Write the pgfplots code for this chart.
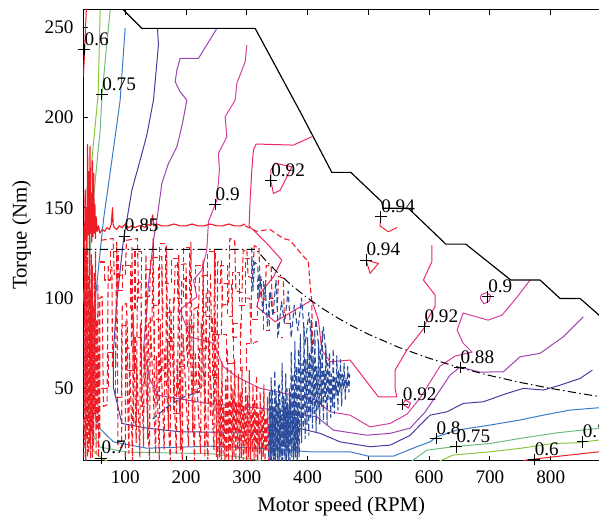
\documentclass[border=0pt]{standalone}
\usepackage{fontspec}
\setmainfont{Liberation Serif}
\usepackage{pgfplots}
\pgfplotsset{compat=1.18}
\definecolor{c60}{HTML}{E8202A}
\definecolor{c70}{HTML}{8CC63F}
\definecolor{c75}{HTML}{6DBE7C}
\definecolor{c80}{HTML}{3A7CC8}
\definecolor{c85}{HTML}{4B3D9F}
\definecolor{c88}{HTML}{9C45B2}
\definecolor{c90}{HTML}{D1419C}
\definecolor{c92}{HTML}{EC2A6B}
\definecolor{c94}{HTML}{F0283C}
\definecolor{opred}{HTML}{EE1C25}
\definecolor{opblue}{HTML}{2B4C9B}
\begin{document}
\begin{tikzpicture}
\begin{axis}[name=ax, scale only axis, width=309.4pt, height=270.4pt,
  xmin=31, xmax=879.4, ymin=10, ymax=259.5,
  axis y line*=left,
  xtick={100,200,...,800}, ytick={50,100,...,250},
  tick align=inside, major tick length=3pt,
  tick style={black, line width=0.6pt}, axis line style={line width=0.6pt},
  /pgf/number format/assume math mode=true,
  ticklabel style={font=\fontsize{11.5}{13}\selectfont},
  xticklabel style={yshift=-2.8pt}, yticklabel style={xshift=-2.4pt},
  xlabel={Motor speed (RPM)}, ylabel={Torque (Nm)},
  label style={font=\fontsize{12.5}{14}\selectfont},
  xlabel style={at={(axis description cs:0.5,-0.1006)}, anchor=center},
  ylabel style={at={(axis description cs:-0.1196,0.5)}, anchor=center},
  every axis plot/.append style={line join=round},
  opdash/.style={line width=0.65pt, dash pattern=on 3.4pt off 1.8pt},
]
% ---------- efficiency contours ----------
\addplot[c60, line width=0.6pt] coordinates {(36,260) (34,245) (32.5,232) (31,222)};
\addplot[c60, line width=0.6pt] coordinates {(750,9) (758.9,10.3) (804.3,12.1) (879.4,14.9) (890,15.5)};
\addplot[c70, line width=0.6pt] coordinates {(58.7,259.5) (55.4,213) (45.1,176.4) (41.1,154.3) (35.7,126.6) (32.4,104.4) (30.5,97)};
\addplot[c70, line width=0.6pt] coordinates {(30.5,33) (35,25) (42.3,18.6) (50,14.5) (60.4,11.4) (72,9.5)};
\addplot[c70, line width=0.6pt] coordinates {(612,9) (620.7,10.3) (639.3,13.1) (700.2,14.9) (749.5,16.8) (803.8,19.5) (842.8,19.9) (879.4,21.4) (890,21.8)};
\addplot[c75, line width=0.6pt] coordinates {(75.2,259.5) (68.6,237.3) (62,213) (58.7,193) (53.8,176.4) (47.7,154.3) (42,125) (39,93.3) (35.7,54.6) (42.3,26.9) (58.7,17.5) (103.1,14.7) (239.6,13.9) (289,11.9) (330,9.5)};
\addplot[c75, line width=0.6pt] coordinates {(568,9) (573.6,10.3) (596,15.8) (639.8,17.7) (700.2,19.5) (749.5,22.3) (809.9,25.4) (879.4,27.9) (890,28.3)};
\addplot[c80, line width=0.6pt] coordinates {(99.8,249.5) (91.6,209.6) (78,176.4) (64.1,143.2) (50.5,98.9) (48.8,54.6) (52.1,29.7) (80.6,20.4) (135.5,16.9) (239.6,18) (321.9,16.9) (404.1,14.9) (469.9,14.9) (499.5,12.5) (541.2,12.5) (579.6,17.7) (601.5,20.4) (612.5,23.2) (645.4,26.9) (700.2,29.7) (749.5,32.5) (787.8,35.2) (831.7,38) (879.4,39.3) (890,39.5)};
\addplot[c85, line width=0.6pt] coordinates {(153,249.5) (154.6,240.1) (146.4,209.6) (135.5,190.3) (124.5,176.4) (110.9,159.8) (97,132.1) (86.2,98.9) (80.6,71.2) (80.6,50.2) (94.4,30.6) (135.5,28) (190.3,26) (239.6,25.8) (321.9,25.8) (376.6,28.7) (420.6,25.1) (453.5,20.4) (502.8,17.7) (535.7,18.6) (568.6,24) (585,29.7) (601.5,35.2) (628.9,37) (656.3,41.7) (689.1,42.6) (727.6,47.2) (754.9,50) (787.8,49.1) (815.3,51.8) (848.2,55.5) (868.4,60.1)};
\addplot[c88, line width=0.6pt] coordinates {(250.7,249.3) (220.4,232.7) (190.3,232.7) (184.9,226.2) (182.1,219.8) (190.3,214.2) (201.3,209.6) (195.2,198.6) (190.3,191.2) (184.9,183.8) (173.9,176.4) (171.1,174.6) (160.2,163.5) (152,143.2) (146.4,132.1) (138.2,108.1) (135.5,93.4) (129.9,71.2) (141,54.6) (154.1,46.3) (182.1,44.6) (231.4,41.9) (280.8,40.2) (321.9,39.1) (376.6,36.2) (415.1,34.3) (442.4,26.9) (497.4,24.1) (535.7,25.1) (568.6,28) (593.3,36.9) (617.9,49.1) (634.4,57.4) (650.8,61.8) (683.7,59) (722,59.2) (749.5,67.5) (782.4,69.4) (820.7,78.6) (853.6,89.6)};
\addplot[c90, line width=0.6pt] coordinates {(300,240.1) (297.2,230.8) (283.6,218.9) (280.8,209.6) (264.3,200.4) (267.1,189.3) (253.3,180.1) (254.9,170.9) (250.7,154.3) (236.8,142.2) (234.2,126.6) (226,115.5) (212.2,110) (217.8,100.7) (195.7,95.2) (190.3,93.3) (206.7,78.6) (245.1,74.9) (261.5,62) (283.6,56.4) (321.9,50) (376.6,46.3) (409.5,44.5) (437,37) (469.9,35.2) (502.8,28.7) (535.7,30.6) (563.7,35.8) (585,44.6) (601.5,53.5) (617.9,62.3) (642.6,67.9) (670.6,70.1) (655.8,75.1) (645.9,82.3) (655.8,91.7) (697,87.8) (719.9,90.6) (744.6,100.5) (766,110)};
\addplot[c90, line width=0.6pt] coordinates {(684,100) (690,96.8) (699,98.5) (701,101.5) (694,103) (686,102) (684,100)};
\addplot[c92, line width=0.6pt] coordinates {(406.9,189.3) (376.6,184.7) (315.3,185.3) (310.9,182) (308.2,170.9) (305.4,154.3) (303.8,139.9) (316.4,135.8) (332.9,130.3) (357.6,121) (343.8,111.8) (321.9,102.6) (316.4,95.2) (346.5,86.9) (406.9,98.9) (417.8,87.8) (423.4,71.2) (437,64.7) (469.9,65.7) (516.4,45.3) (546.7,45.3) (543.9,50) (543.9,60.1) (563.2,71.2) (591.6,83.4) (596,87.8) (609.7,95.2) (609.7,101.7) (590.5,110) (604.3,120.1) (604.3,129.3)};
\addplot[c92, line width=0.6pt] coordinates {(339.5,164.9) (343.8,157.9) (354.8,159.7) (374,172.7) (346.5,174.7) (339.5,170.9) (339.5,164.9)};
\addplot[c92, line width=0.6pt] coordinates {(556,41.4) (565.9,39.1) (569.2,41.9) (560.9,43.5) (556,41.4)};
\addplot[c94, line width=0.6pt] coordinates {(520.4,145) (519.2,139.9) (532.9,136.7) (547.2,139.1)};
\addplot[c94, line width=0.6pt] coordinates {(496.2,121) (502.8,113.7) (516.4,119.2) (496.2,121)};
% ---------- red operating points ----------
\addplot[opred, opdash] coordinates {
(32,12) (33,130) (34,18) (34,126) (35,10) (36,134) (36,22) (37,120) (38,12) (38,128) (39,30) (40,112) (40,14) (41,135) (42,20) (43,104) (43,11) (44,124) (45,26) (46,118) (46,12) (47,96) (48,18) (49,114) (50,36) (51,126) (52,14) (53,88) (54,28) (55,108) (56,12) (57,72) (58,22) (58,100)
(62,101) (64,40) (70,41) (72,118) (78,117) (79,62) (84,63) (86,131) (88,18) (94,17) (95,96) (102,97) (104,72) (110,73) (111,128) (114,30) (118,31) (120,108) (126,109) (127,52) (132,52) (134,124) (137,22) (138,86) (144,87) (146,133) (148,42) (154,43) (155,117) (160,116) (162,60) (167,60) (168,129) (171,27) (173,99) (179,100) (181,46) (186,47) (188,124) (191,16) (193,110) (199,111) (201,69) (206,70) (208,131) (211,26) (213,94) (219,95) (221,50) (226,51) (228,121) (231,12) (233,104) (238,104) (240,35) (245,36) (247,127) (250,12)
(252,120) (258,121) (260,96) (270,97) (272,133) (280,132) (282,104) (292,103) (294,126) (300,127) (302,112) (310,111) (312,129) (320,128) (322,100) (330,99) (332,118) (340,118) (342,92) (350,92) (352,112) (360,111) (362,86) (372,86)};
\addplot[opred, opdash] coordinates {
(60,132) (80,133) (82,112) (100,113) (102,132) (120,133) (122,100) (140,101) (142,122) (160,123) (162,92) (180,92) (182,118) (200,119) (202,84) (220,85) (222,112) (240,113) (242,80) (258,80) (260,108) (275,108) (277,78) (290,79) (292,100) (305,100) (307,75) (318,76)};
\addplot[opred, opdash] coordinates {
(58,120) (66,120) (66,110) (76,110) (76,126) (88,126) (88,104) (96,104) (96,118) (108,118) (108,94) (116,94) (116,126) (126,126) (126,106) (134,106) (134,116) (146,116) (146,96) (156,96) (156,130) (166,130) (166,108) (176,108) (176,122) (186,122) (186,100) (196,100) (196,128) (206,128) (206,104) (216,104) (216,118) (228,118) (228,92) (236,92) (236,126) (248,126) (248,108) (256,108) (256,118) (268,118) (268,90) (276,90) (276,114) (288,114) (288,96) (298,96) (298,122) (308,122) (308,88) (318,88) (318,110) (328,110) (328,82) (338,82) (338,100) (350,100) (350,78) (360,78)};
\addplot[opred, opdash] coordinates {
(60,50) (72,50) (72,70) (84,70) (84,45) (94,45) (94,85) (104,85) (104,60) (116,60) (116,78) (126,78) (126,40) (136,40) (136,66) (148,66) (148,88) (158,88) (158,54) (170,54) (170,76) (180,76) (180,36) (190,36) (190,62) (202,62) (202,84) (212,84) (212,48) (222,48) (222,72) (234,72) (234,90) (244,90) (244,56) (254,56) (254,80) (266,80) (266,64) (278,64) (278,86) (290,86) (290,60) (300,60) (300,75) (312,75)};
\addplot[opred, opdash] coordinates {
(100,12) (101,88) (106,14) (107,70) (112,10) (113,92) (118,20) (119,64) (124,12) (125,86) (130,18) (131,74) (140,10) (141,90) (150,14) (151,68) (156,10) (157,84) (164,16) (165,72) (174,10) (175,94) (184,14) (185,66) (194,10) (195,80) (204,18) (205,88) (214,10) (215,70) (224,14) (225,86) (236,10) (237,78) (246,16) (247,92)};
\addplot[opred, opdash] coordinates {
(252,10) (253,58) (255,12) (256,46) (258,10) (259,65) (261,14) (262,40) (264,10) (265,55) (267,12) (268,72) (270,10) (271,44) (273,15) (274,60) (276,10) (277,50) (279,12) (280,66) (282,10) (283,42) (285,16) (286,58) (288,10) (289,48) (291,12) (292,62) (294,10) (295,40) (297,14) (298,54) (300,10) (301,46) (303,12) (304,60) (306,10) (307,38) (309,15) (310,52) (312,10) (313,44) (315,12) (316,57) (318,10) (319,36) (321,14) (322,48) (324,10) (325,40) (327,12) (328,52) (330,10) (331,34) (333,15) (334,45) (336,10) (337,30) (339,13) (340,24)};
\addplot[opred, opdash] coordinates {
(297,140) (316,137) (338,138) (360,133) (371,132) (396,122) (401,121) (404,108) (407,97) (408,70)};
\addplot[opred, line width=0.7pt] coordinates {
(31,128) (32,140) (33,126) (34,160) (35,132) (36,150) (37,128) (38,185) (39,135) (40,170) (41,130) (42,184) (43,136) (44,158) (45,131) (46,176) (47,134) (48,169) (49,136) (50,152) (51,133) (52,145) (54,137) (56,140) (58,136) (62,138) (66,137) (70,139) (74,138) (77,141) (79,150) (80,141) (82,139) (86,138) (90,140) (95,139) (100,141) (105,139) (110,140) (116,139) (122,140) (128,140) (132,139) (136,141) (142,140) (145,146) (147,140) (152,141) (160,140) (170,140) (180,141) (190,140) (200,140) (210,141) (220,140) (230,140) (240,141) (250,140) (260,140) (270,141) (280,140) (290,140) (297,141)};
% ---------- blue operating points ----------
\addplot[opblue, opdash] coordinates {
(338,10) (339,40) (341,10) (342,50) (344,10) (345,36) (347,10) (348,48) (350,12) (351,40) (353,10) (354,52) (356,12) (357,34) (359,10) (360,46) (362,12) (363,40) (365,10) (366,50) (368,12) (369,38) (371,10) (372,44) (374,12) (375,36) (377,10) (378,48) (380,12) (381,34) (383,10) (384,42) (386,12) (387,30)};
\addplot[opblue, opdash] coordinates {
(336,12) (337,48) (339,10) (340,56) (342,14) (343,40) (345,10) (346,60) (348,16) (349,44) (351,10) (352,52) (354,12) (355,38) (357,10) (358,64) (360,18) (361,46) (363,10) (364,58) (366,14) (367,42) (369,10) (370,50) (372,20) (373,70) (375,24) (376,58) (378,16) (379,76) (381,22) (382,62) (384,14) (385,72) (387,26) (388,80) (390,20) (391,64) (393,28) (394,84) (396,22) (397,66) (399,30) (400,78) (402,24) (403,70) (405,34) (406,88) (408,28) (409,68) (411,36) (412,80) (414,26) (415,62) (417,38) (418,76) (420,30) (421,66) (423,40) (424,82) (426,32) (427,60) (429,42) (430,74) (432,30) (433,64) (435,44) (436,70) (438,34) (439,58) (441,40) (442,72) (444,36) (445,56) (447,46) (448,68) (450,38) (451,60) (453,48) (454,66) (456,40) (457,58) (459,50) (460,64) (462,44) (463,56) (465,50) (466,62) (468,48) (469,58)};
\addplot[opblue, opdash] coordinates {
(308,128) (310,104) (313,120) (318,118) (320,100) (323,112) (326,92) (330,108) (334,84) (338,104) (343,90) (348,110) (352,80) (357,98) (362,86) (368,104) (373,78) (378,96) (384,82) (390,100) (396,74) (402,92) (408,70) (414,88) (420,66) (426,84) (432,62)};
\addplot[opblue, opdash] coordinates {(145,33) (170,40) (195,45) (220,48)};
% ---------- envelope and power curve ----------
\addplot[black, line width=0.7pt] coordinates {(97,259.5) (127.4,249.3) (313.7,249.3) (387.7,203.2) (439.8,169.6) (471.1,169.6) (522,153.3) (524,149.7) (565.9,149.7) (627.3,129.9) (660.2,129.9) (734.2,110) (782.4,110) (815.3,99.8) (848.2,99.8) (879.4,90.6) (890,87.3)};
\addplot[black, line width=0.6pt, dash pattern=on 5pt off 2pt on 0.8pt off 2pt] coordinates {(31,127) (315,127) (330,121.2) (350,114.3) (375,106.7) (400,100) (425,94.1) (450,88.9) (475,84.2) (500,80) (550,72.7) (600,66.7) (650,61.5) (700,57.1) (750,53.3) (800,50) (850,47.1) (880,45.5)};
% ---------- contour labels ----------
\addplot[only marks, mark=+, mark size=3.5pt, black, mark options={line width=0.6pt},
  point meta=explicit symbolic, nodes near coords,
  nodes near coords style={anchor=base west, inner sep=0pt, yshift=2.5pt, text=black, font=\fontsize{11.5}{13}\selectfont}]
  coordinates {(32.4,237.7) [0.6] (61.5,212.8) [0.75] (98.7,134.3) [0.85] (247.9,151.9) [0.9] (339.5,164.9) [0.92] (520.4,145) [0.94] (496.2,121) [0.94] (696.4,100.7) [0.9] (591.6,84.1) [0.92] (650.8,61.6) [0.88] (556,41.1) [0.92] (611.3,22.3) [0.8] (644.3,17.7) [0.75] (773,10.7) [0.6] (852,20.4) [0.7] (60.4,11.4) [0.7]};
\end{axis}
\pgfresetboundingbox
\path[use as bounding box] ([xshift=-50pt,yshift=-38.6pt]ax.south west) rectangle ([yshift=6pt]ax.north east);
\end{tikzpicture}
\end{document}
